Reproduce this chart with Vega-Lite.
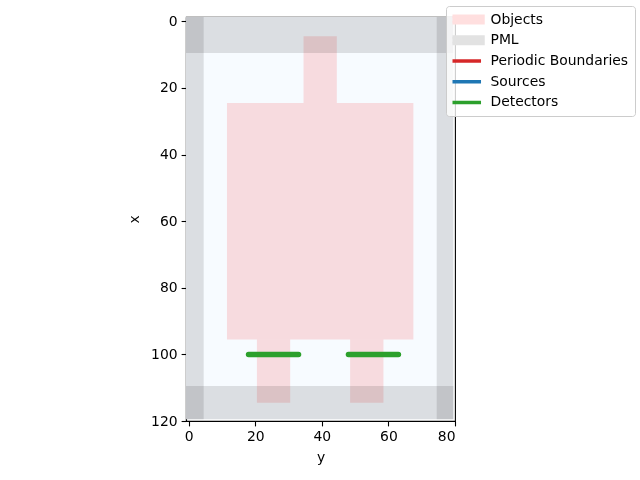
{
  "$schema": "https://vega.github.io/schema/vega-lite/v6.json",
  "width": 269,
  "height": 404,
  "autosize": "none",
  "padding": {"left": 186, "top": 17, "right": 185, "bottom": 59},
  "background": "white",
  "config": {
    "view": {"stroke": "black", "strokeWidth": 1.1},
    "axis": {
      "grid": false,
      "labelFont": "DejaVu Sans",
      "labelFontSize": 13.9,
      "labelColor": "black",
      "labelPadding": 4,
      "titleFont": "DejaVu Sans",
      "titleFontSize": 13.9,
      "titleFontWeight": "normal",
      "titleColor": "black",
      "titlePadding": 7,
      "tickColor": "black",
      "tickSize": 4.9,
      "tickWidth": 1.1,
      "domainColor": "black",
      "domainWidth": 1.1
    },
    "axisY": {"titlePadding": 9}
  },
  "datasets": {
    "pml": [
      {"kind": "PML", "y_start": -0.8, "y_end": 79.5, "x_start": -1.3, "x_end": 9.5},
      {"kind": "PML", "y_start": -0.8, "y_end": 79.5, "x_start": 109.5, "x_end": 119.5},
      {"kind": "PML", "y_start": -0.8, "y_end": 4.5, "x_start": -1.3, "x_end": 119.5},
      {"kind": "PML", "y_start": 74.5, "y_end": 79.5, "x_start": -1.3, "x_end": 119.5}
    ],
    "objects": [
      {"kind": "Objects", "y_start": 34.5, "y_end": 44.5, "x_start": 4.5, "x_end": 24.5},
      {"kind": "Objects", "y_start": 11.5, "y_end": 67.5, "x_start": 24.5, "x_end": 95.5},
      {"kind": "Objects", "y_start": 20.5, "y_end": 30.5, "x_start": 95.5, "x_end": 114.5},
      {"kind": "Objects", "y_start": 48.5, "y_end": 58.5, "x_start": 95.5, "x_end": 114.5}
    ],
    "detectors": [
      {"kind": "Detectors", "y_start": 18, "y_end": 33, "x_start": 100},
      {"kind": "Detectors", "y_start": 48, "y_end": 63, "x_start": 100}
    ]
  },
  "layer": [
    {
      "data": {"values": [{"y_start": -0.8, "y_end": 79.5, "x_start": -1.3, "x_end": 119.5}]},
      "mark": {"type": "rect", "color": "#f7fbff"},
      "encoding": {
        "x": {"field": "y_start", "type": "quantitative", "scale": {"domain": [-0.8, 80], "nice": false, "zero": false}, "axis": {"title": "y", "values": [0, 20, 40, 60, 80]}},
        "x2": {"field": "y_end"},
        "y": {"field": "x_start", "type": "quantitative", "scale": {"domain": [-1.3, 120], "reverse": true, "nice": false, "zero": false}, "axis": {"title": "x", "values": [0, 20, 40, 60, 80, 100, 120]}},
        "y2": {"field": "x_end"}
      }
    },
    {
      "data": {"name": "pml"},
      "mark": {"type": "rect", "blend": "multiply"},
      "encoding": {
        "x": {"field": "y_start", "type": "quantitative", "scale": {"domain": [-0.8, 80], "nice": false, "zero": false}, "axis": {"title": "y", "values": [0, 20, 40, 60, 80]}},
        "x2": {"field": "y_end"},
        "y": {"field": "x_start", "type": "quantitative", "scale": {"domain": [-1.3, 120], "reverse": true, "nice": false, "zero": false}, "axis": {"title": "x", "values": [0, 20, 40, 60, 80, 100, 120]}},
        "y2": {"field": "x_end"},
        "color": {
          "field": "kind",
          "type": "nominal",
          "scale": {
            "domain": ["Objects", "PML", "Periodic Boundaries", "Sources", "Detectors"],
            "range": ["#ffdfdf", "#e2e2e2", "#d62728", "#1f77b4", "#2ca02c"]
          },
          "legend": {
            "title": null,
            "orient": "none",
            "legendX": 260,
            "legendY": -11,
            "symbolType": {"expr": "datum.value === 'Objects' || datum.value === 'PML' ? 'M-1,-0.18H1V0.18H-1Z' : 'M-0.89,0H0.89'"},
            "symbolSize": 1296,
            "symbolStrokeWidth": 3.5,
            "symbolOffset": -7.5,
            "symbolOpacity": 1,
            "clipHeight": 14.2,
            "labelFont": "DejaVu Sans",
            "labelFontSize": 13.9,
            "labelColor": "black",
            "labelOffset": 5.5,
            "labelLimit": 0,
            "rowPadding": 5.7,
            "padding": 6.5,
            "fillColor": "rgba(255,255,255,0.8)",
            "strokeColor": "#cccccc",
            "cornerRadius": 3
          }
        }
      }
    },
    {
      "data": {"name": "objects"},
      "mark": {"type": "rect", "blend": "multiply"},
      "encoding": {
        "x": {"field": "y_start", "type": "quantitative", "scale": {"domain": [-0.8, 80], "nice": false, "zero": false}, "axis": {"title": "y", "values": [0, 20, 40, 60, 80]}},
        "x2": {"field": "y_end"},
        "y": {"field": "x_start", "type": "quantitative", "scale": {"domain": [-1.3, 120], "reverse": true, "nice": false, "zero": false}, "axis": {"title": "x", "values": [0, 20, 40, 60, 80, 100, 120]}},
        "y2": {"field": "x_end"},
        "color": {"field": "kind", "type": "nominal"}
      }
    },
    {
      "data": {"name": "detectors"},
      "mark": {"type": "rule", "strokeWidth": 5.5, "strokeCap": "round"},
      "encoding": {
        "x": {"field": "y_start", "type": "quantitative", "scale": {"domain": [-0.8, 80], "nice": false, "zero": false}, "axis": {"title": "y", "values": [0, 20, 40, 60, 80]}},
        "x2": {"field": "y_end"},
        "y": {"field": "x_start", "type": "quantitative", "scale": {"domain": [-1.3, 120], "reverse": true, "nice": false, "zero": false}, "axis": {"title": "x", "values": [0, 20, 40, 60, 80, 100, 120]}},
        "color": {"field": "kind", "type": "nominal"}
      }
    }
  ]
}
